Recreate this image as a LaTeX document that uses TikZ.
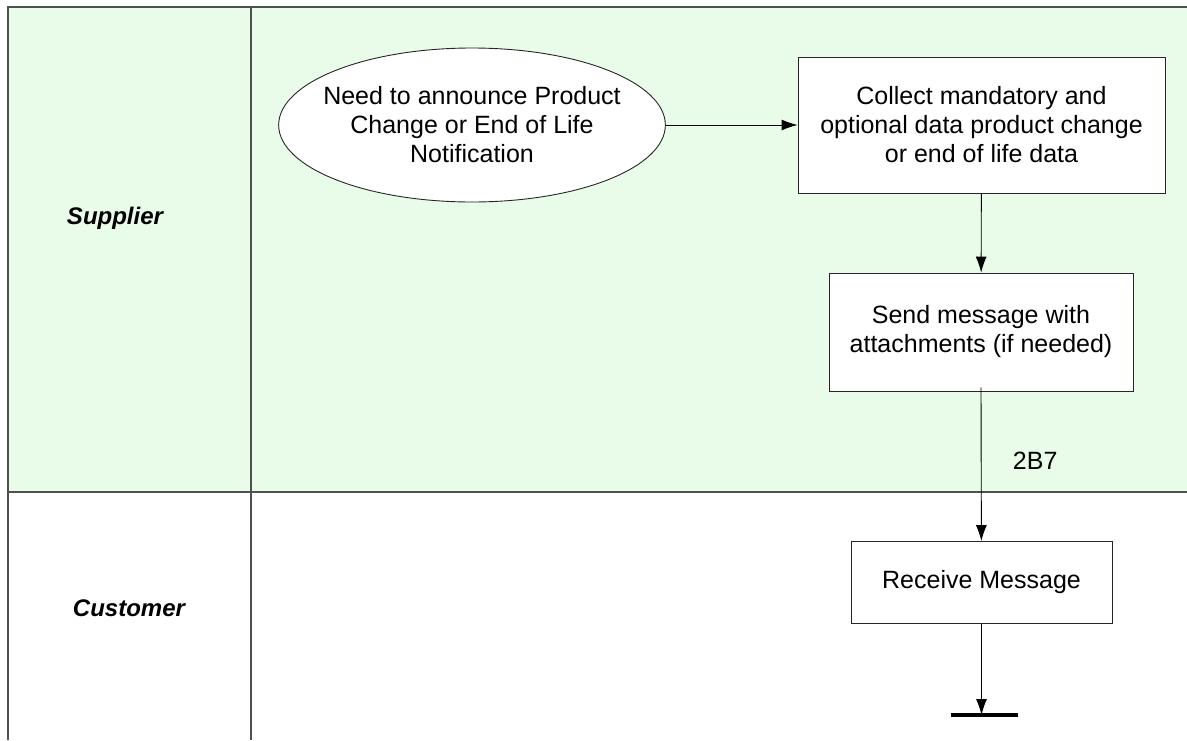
\documentclass[tikz,border=0pt]{standalone}
\usepackage{fontspec}
\setmainfont{Liberation Sans}
\usetikzlibrary{shapes.geometric,arrows.meta}
\definecolor{lanegreen}{HTML}{E9FCE9}
\definecolor{laneline}{HTML}{505050}

\begin{document}
\begin{tikzpicture}[x=1pt, y=-1pt, >={Latex[length=16pt,width=11pt]},
  font=\fontsize{25}{29}\selectfont,
  lane/.style={draw=laneline, line width=1.3pt},
  proc/.style={draw=black!85, fill=white, line width=0.9pt, align=center, inner sep=0pt},
  actor/.style={font=\fontsize{24}{29}\selectfont\bfseries\itshape},
  flow/.style={->, line width=0.9pt}]
\useasboundingbox (0,0) rectangle (1187,740);
\fill[lanegreen] (8,7) rectangle (1187,492);
\draw[lane] (1187,7) -- (8,7) -- (8,740);
\draw[lane] (251,7) -- (251,740);
\draw[lane] (8,492) -- (1187,492);
\node[actor] (supplier) at (115,218) {Supplier};
\node[actor] (customer) at (129,608) {Customer};
\node[proc, ellipse, inner xsep=-12pt, inner ysep=0pt, minimum width=386pt, minimum height=154pt] (start) at (472,125)
  {Need to announce Product\\Change or End of Life\\Notification};
\node[proc, minimum width=367pt, minimum height=136pt] (collect) at (981.5,125)
  {Collect mandatory and\\optional data product change\\or end of life data};
\node[proc, minimum width=304pt, minimum height=118pt] (send) at (981,332)
  {Send message with\\attachments (if needed)};
\node[proc, minimum width=261pt, minimum height=82pt] (receive) at (981.5,582.5)
  {Receive Message};
\coordinate (stop) at (981.5,715);
\draw[flow] (start) -- (collect);
\draw[flow] (collect) -- (send);
\draw[flow] ([yshift=4pt]send.south) -- node[pos=0.48, right=28pt] {2B7} (receive);
\draw[flow] (receive) -- (stop);
\draw[line width=4pt] ([xshift=-31pt]stop) -- ([xshift=36pt]stop);
\end{tikzpicture}
\end{document}
